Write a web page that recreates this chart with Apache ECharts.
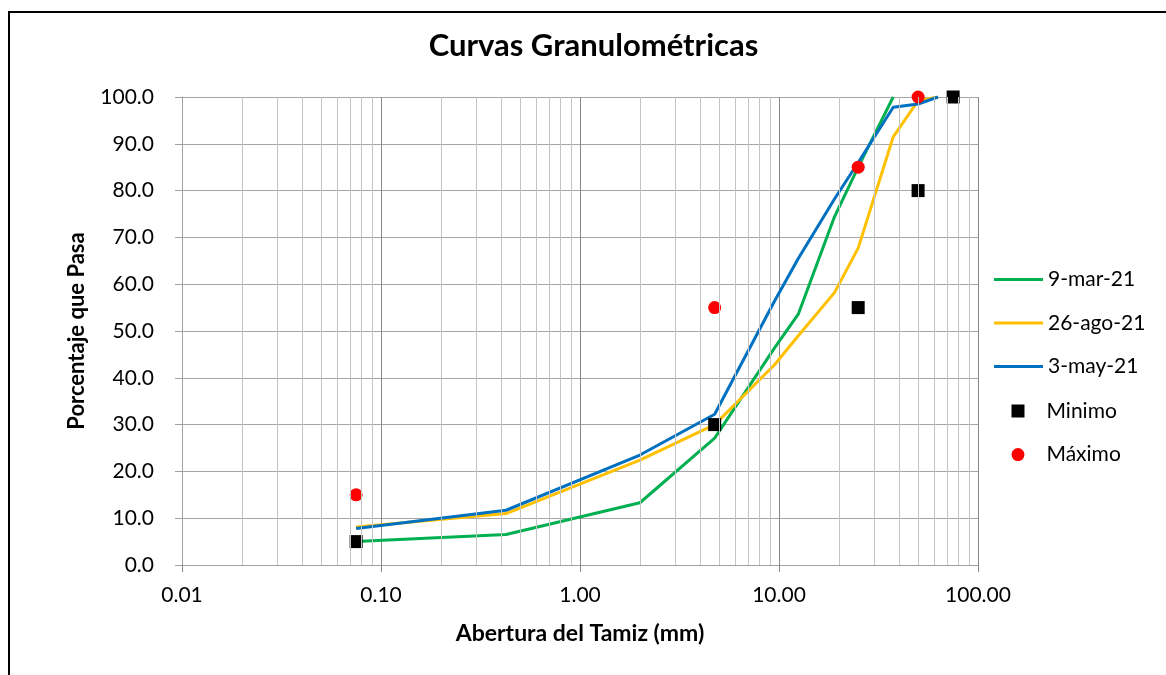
<!DOCTYPE html>
<html>
<head>
<meta charset="utf-8">
<script src="https://cdn.jsdelivr.net/npm/echarts@6/dist/echarts.min.js"></script>
<style>html,body{margin:0;padding:0;background:#fff}#c{width:1166px;height:675px}</style>
</head>
<body>
<div id="c"></div>
<script>
// Sieve openings (mm) and percent passing
const sievesMar = [0.075, 0.425, 2.0, 4.75, 9.5, 12.5, 19, 25, 37.5];
const pctMar    = [5.0, 6.5, 13.3, 27.1, 46.4, 53.6, 74.4, 85.0, 100.0];

const sievesAgo = [0.075, 0.425, 2.0, 4.75, 9.5, 12.5, 19, 25, 37.5, 50, 63];
const pctAgo    = [8.1, 11.0, 22.4, 30.0, 42.8, 49.0, 58.2, 67.7, 91.5, 99.2, 100.0];

const sievesMay = [0.075, 0.425, 2.0, 4.75, 9.5, 12.5, 19, 25, 37.5, 50, 63];
const pctMay    = [7.8, 11.7, 23.5, 32.2, 56.4, 65.5, 78.2, 86.0, 97.8, 98.5, 100.0];

const sievesMin = [0.075, 4.75, 25, 50, 75];
const pctMin    = [5, 30, 55, 80, 100];

const sievesMax = [0.075, 4.75, 25, 50];
const pctMax    = [15, 55, 85, 100];

const minorGridValues = [
  0.02,0.03,0.04,0.05,0.06,0.07,0.08,0.09,
  0.2,0.3,0.4,0.5,0.6,0.7,0.8,0.9,
  2,3,4,5,6,7,8,9,
  20,30,40,50,60,70,80,90
];

const pair = (xs, ys) => xs.map((x, i) => [x, ys[i]]);

const FONT = 'Lato, "Open Sans", sans-serif';
const chart = echarts.init(document.getElementById('c'), null, {renderer: 'canvas'});

chart.setOption({
  animation: false,
  backgroundColor: '#fff',
  graphic: [
    {type: 'rect', shape: {x: 9, y: 12, width: 1200, height: 700},
     style: {fill: 'none', stroke: '#000', lineWidth: 2}, z: -10},
    {type: 'text', x: 593.5, y: 46,
     style: {text: 'Curvas Granulométricas', fill: '#000', font: 'bold 31px ' + FONT,
             textAlign: 'center', textVerticalAlign: 'middle'}}
  ],
  grid: {left: 182, right: 188, top: 97, bottom: 110, containLabel: false},
  xAxis: {
    type: 'log', logBase: 10, min: 0.01, max: 100,
    name: 'Abertura del Tamiz (mm)', nameLocation: 'middle', nameGap: 57,
    nameTextStyle: {fontFamily: FONT, fontWeight: 'bold', fontSize: 23, color: '#000'},
    axisLine: {show: true, lineStyle: {color: '#a0a0a0', width: 1}},
    axisTick: {show: true, inside: false, length: 7, lineStyle: {color: '#888'}},
    axisLabel: {fontFamily: FONT, fontSize: 21, color: '#000', margin: 20,
                formatter: v => v.toFixed(2)},
    splitLine: {show: true, lineStyle: {color: '#8a8a8a', width: 1}},
    minorTick: {show: false}, minorSplitLine: {show: false}
  },
  yAxis: {
    type: 'value', min: 0, max: 100, interval: 10,
    name: 'Porcentaje que Pasa', nameLocation: 'middle', nameGap: 94, nameRotate: 90,
    nameTextStyle: {fontFamily: FONT, fontWeight: 'bold', fontSize: 22, color: '#000'},
    axisLine: {show: true, lineStyle: {color: '#a0a0a0', width: 1}},
    axisTick: {show: true, inside: false, length: 7, lineStyle: {color: '#a0a0a0'}},
    axisLabel: {fontFamily: FONT, fontSize: 21, color: '#000', margin: 28,
                formatter: v => v.toFixed(1)},
    splitLine: {show: true, lineStyle: {color: '#a6a6a6', width: 1}}
  },
  legend: [
    {
      orient: 'vertical', left: 994, top: 269, padding: 0, itemWidth: 49, itemHeight: 3, itemGap: 22.5,
      textStyle: {fontFamily: FONT, fontSize: 21, color: '#000', lineHeight: 20},
      data: [{name: '9-mar-21', icon: 'rect'}, {name: '26-ago-21', icon: 'rect'}, {name: '3-may-21', icon: 'rect'}],
      selectedMode: false
    },
    {
      orient: 'vertical', left: 1011.5, top: 400.5, padding: 0, itemWidth: 13, itemHeight: 13, itemGap: 22.6,
      textStyle: {fontFamily: FONT, fontSize: 21, color: '#000', lineHeight: 20, padding: [0,0,0,17]},
      data: [{name: 'Minimo', icon: 'rect'}, {name: 'Máximo', icon: 'circle'}], selectedMode: false
    }
  ],
  series: [
    {
      name: 'minor-grid', type: 'line', data: [], silent: true, z: 0,
      markLine: {
        silent: true, symbol: ['none', 'none'], label: {show: false},
        lineStyle: {color: '#c4c4c4', width: 1, type: 'solid'},
        emphasis: {disabled: true},
        data: minorGridValues.map(v => ({xAxis: v}))
      }
    },
    {name: '9-mar-21', type: 'line', data: pair(sievesMar, pctMar), showSymbol: false, symbol: 'none',
     lineStyle: {color: '#00B050', width: 3}, itemStyle: {color: '#00B050'}, z: 3},
    {name: '26-ago-21', type: 'line', data: pair(sievesAgo, pctAgo), showSymbol: false, symbol: 'none',
     lineStyle: {color: '#FFC000', width: 3}, itemStyle: {color: '#FFC000'}, z: 3},
    {name: '3-may-21', type: 'line', data: pair(sievesMay, pctMay), showSymbol: false, symbol: 'none',
     lineStyle: {color: '#0070C0', width: 3}, itemStyle: {color: '#0070C0'}, z: 3},
    {name: 'Minimo', type: 'scatter', data: pair(sievesMin, pctMin), symbol: 'rect', symbolSize: 13,
     itemStyle: {color: '#000', opacity: 1}, z: 4, clip: false},
    {name: 'Máximo', type: 'scatter', data: pair(sievesMax, pctMax), symbol: 'circle', symbolSize: 13,
     itemStyle: {color: '#FF0000', opacity: 1}, z: 4, clip: false}
  ]
});
</script>
</body>
</html>
